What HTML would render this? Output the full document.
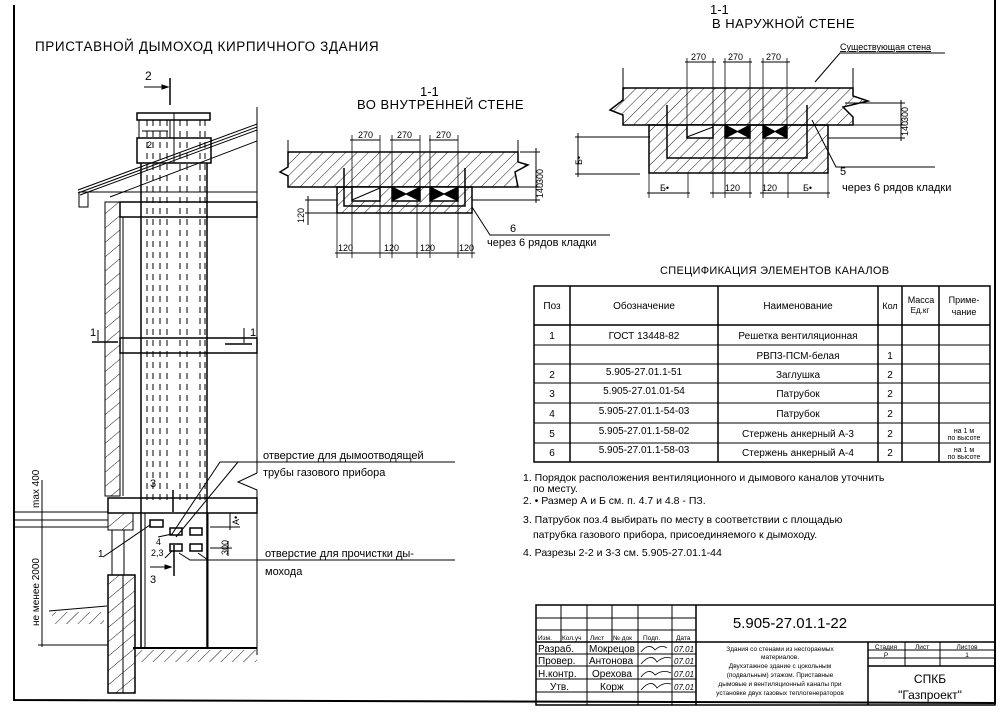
<!DOCTYPE html>
<html><head><meta charset="utf-8"><style>
html,body{margin:0;padding:0;background:#fff}
svg{display:block}
text{font-family:"Liberation Sans","DejaVu Sans",sans-serif;fill:#000}
</style></head><body>
<svg width="1003" height="716" viewBox="0 0 1003 716" xmlns="http://www.w3.org/2000/svg">
<defs>
<pattern id="h" width="8" height="8" patternUnits="userSpaceOnUse" patternTransform="rotate(45)">
<line x1="0" y1="0" x2="0" y2="8" stroke="#000" stroke-width="0.9"/></pattern>
<pattern id="h2" width="11" height="11" patternUnits="userSpaceOnUse" patternTransform="rotate(50)">
<line x1="0" y1="0" x2="0" y2="11" stroke="#000" stroke-width="0.9"/></pattern>
</defs>
<g stroke="#000" fill="none" stroke-width="1">
<polyline points="14,5 14,700 995,703 995,0" stroke-width="2"/>
</g>
<text x="35" y="51" font-size="13.5" letter-spacing="0.6">ПРИСТАВНОЙ ДЫМОХОД КИРПИЧНОГО ЗДАНИЯ</text>

<!-- LEFT ELEVATION -->
<g stroke="#000" fill="none" stroke-width="1">
<line x1="170" y1="78" x2="170" y2="105" stroke-width="1.5"/>
<line x1="144" y1="87" x2="168" y2="87"/><polygon points="168,87 162,85 162,89" fill="#000"/>
<rect x="137" y="113" width="73" height="7" stroke-width="1.5"/>
<rect x="139" y="120" width="31" height="18"/>
<line x1="142" y1="131" x2="168" y2="131"/>
<rect x="137" y="138" width="74" height="25" stroke-width="1.5"/>
<line x1="141" y1="163" x2="141" y2="647" stroke-width="1.5"/>
<line x1="207" y1="163" x2="207" y2="647" stroke-width="1.5"/>
<g stroke-dasharray="6,5">
<line x1="147" y1="120" x2="147" y2="500"/><line x1="153" y1="120" x2="153" y2="500"/>
<line x1="160" y1="120" x2="160" y2="500"/><line x1="167" y1="120" x2="167" y2="500"/>
<line x1="180" y1="120" x2="180" y2="500"/><line x1="187" y1="120" x2="187" y2="500"/>
<line x1="200" y1="120" x2="200" y2="500"/><line x1="205" y1="120" x2="205" y2="500"/>
</g>
<line x1="174" y1="113" x2="174" y2="163"/>
<!-- roof -->
<line x1="78" y1="190" x2="257" y2="124"/>
<line x1="78" y1="193" x2="257" y2="127"/>
<line x1="80" y1="195" x2="257" y2="130"/>
<line x1="110" y1="197" x2="257" y2="141"/>
<rect x="79" y="192" width="9" height="15"/>
<line x1="80" y1="192" x2="257" y2="192"/>
<rect x="120" y="202" width="137" height="15" stroke-width="1.5"/>
<line x1="257" y1="107" x2="257" y2="473"/>
<polyline points="257,473 238,482 250,487 257,490 257,655"/>
<!-- left wall -->
<rect x="105" y="202" width="15" height="294" fill="url(#h2)"/>
<line x1="123" y1="217" x2="123" y2="496"/>
<rect x="120" y="338" width="137" height="15" stroke-width="1.5"/>
<line x1="92" y1="342" x2="118" y2="342" stroke-width="1.5"/>
<line x1="225" y1="344" x2="252" y2="344" stroke-width="1.5"/>
<line x1="98" y1="330" x2="98" y2="341"/><line x1="244" y1="328" x2="244" y2="343"/>
<rect x="108" y="498" width="149" height="15" stroke-width="1.5"/>
<rect x="108" y="513" width="25" height="17" fill="url(#h2)"/>
<line x1="14" y1="512" x2="108" y2="512"/><line x1="14" y1="520" x2="108" y2="520"/>
<line x1="14" y1="527" x2="108" y2="527"/>
<line x1="112" y1="530" x2="112" y2="575"/><line x1="124" y1="530" x2="124" y2="575"/>
<rect x="108" y="575" width="27" height="118" fill="url(#h2)" stroke-width="1.5"/>
<line x1="123" y1="575" x2="123" y2="693"/>
<line x1="133" y1="648" x2="257" y2="648" stroke-width="2"/>
<rect x="135" y="650" width="122" height="12" fill="url(#h)" stroke="none"/>
<line x1="145" y1="513" x2="145" y2="648"/><line x1="208" y1="513" x2="208" y2="648"/>
<line x1="49" y1="611" x2="107" y2="606"/>
<rect x="52" y="612" width="52" height="12" fill="url(#h)" stroke="none"/>
<line x1="42" y1="480" x2="42" y2="647"/>
<line x1="38" y1="645" x2="108" y2="645"/>
<rect x="150" y="520" width="13" height="7" stroke-width="1.5"/>
<rect x="170" y="528" width="12" height="7" stroke-width="1.5"/>
<rect x="190" y="528" width="12" height="7" stroke-width="1.5"/>
<rect x="170" y="544" width="12" height="7" stroke-width="1.5"/>
<rect x="190" y="544" width="12" height="7" stroke-width="1.5"/>
<line x1="173" y1="490" x2="173" y2="512" stroke-width="1.5"/>
<line x1="174" y1="545" x2="174" y2="576" stroke-width="1.5"/>
<line x1="150" y1="567" x2="170" y2="567"/><polygon points="171,567 165,565 165,569" fill="#000"/>
<polyline points="103,557 150,525"/>
<polyline points="165,558 172,551"/>
<polyline points="158,537 172,534 220,462 455,462"/>
<line x1="176" y1="537" x2="238" y2="462"/>
<polyline points="179,553 190,560 455,560"/>
<line x1="198" y1="553" x2="208" y2="560"/>
<line x1="210" y1="527" x2="240" y2="527"/>
<line x1="230" y1="513" x2="230" y2="530"/><line x1="228" y1="541" x2="228" y2="556"/>
<line x1="210" y1="548" x2="232" y2="548"/>
</g>
<text x="145" y="80" font-size="12">2</text>
<text x="147" y="148" font-size="9">2</text>
<text x="90" y="336" font-size="11">1</text>
<text x="250" y="336" font-size="11">1</text>
<text x="150" y="487" font-size="11">3</text>
<text x="150" y="583" font-size="11">3</text>
<text x="98" y="557" font-size="10">1</text>
<text x="156" y="545" font-size="9">4</text>
<text x="151" y="556" font-size="9">2,3</text>
<text x="263" y="459" font-size="11">отверстие для дымоотводящей</text>
<text x="263" y="476" font-size="11">трубы газового прибора</text>
<text x="265" y="557" font-size="11">отверстие для прочистки ды-</text>
<text x="265" y="575" font-size="11">мохода</text>
<text transform="translate(39,626) rotate(-90)" font-size="10">не менее 2000</text>
<text transform="translate(39,508) rotate(-90)" font-size="10">max 400</text>
<text transform="translate(239,525) rotate(-90)" font-size="9">А•</text>
<text transform="translate(228,555) rotate(-90)" font-size="9">300</text>

<!-- SECTION INNER -->
<text x="420" y="96" font-size="13">1-1</text>
<text x="357" y="109" font-size="13" letter-spacing="0.5">ВО ВНУТРЕННЕЙ СТЕНЕ</text>
<g stroke="#000" fill="none">
<polygon points="288,152 518,152 518,162 528,165 515,172 518,187 288,187 288,176 280,172 288,167" fill="url(#h)" stroke-width="1.5"/>
<line x1="288" y1="140" x2="288" y2="152"/><line x1="518" y1="140" x2="518" y2="152"/>
<rect x="337" y="187" width="135" height="26" fill="url(#h)" stroke-width="1.5"/>
<polyline points="344,168 344,206 465,206 465,168" stroke-width="1.5"/>
<rect x="352" y="187" width="28" height="14" fill="#fff" stroke-width="1.5"/>
<line x1="352" y1="200" x2="380" y2="188"/>
<rect x="392" y="187" width="28" height="14" fill="#fff" stroke-width="1.5"/>
<path d="M392,187 L420,201 L420,187 L392,201Z" fill="#000"/>
<rect x="430" y="187" width="28" height="14" fill="#fff" stroke-width="1.5"/>
<path d="M430,187 L458,201 L458,187 L430,201Z" fill="#000"/>
<line x1="350" y1="140" x2="380" y2="140"/><line x1="390" y1="140" x2="420" y2="140"/><line x1="429" y1="140" x2="458" y2="140"/>
<g stroke-width="0.8">
<line x1="352" y1="135" x2="352" y2="187"/><line x1="380" y1="135" x2="380" y2="187"/>
<line x1="392" y1="135" x2="392" y2="187"/><line x1="420" y1="135" x2="420" y2="187"/>
<line x1="430" y1="135" x2="430" y2="187"/><line x1="458" y1="135" x2="458" y2="187"/>
<line x1="337" y1="213" x2="337" y2="258"/><line x1="352" y1="201" x2="352" y2="258"/>
<line x1="380" y1="201" x2="380" y2="258"/><line x1="392" y1="201" x2="392" y2="258"/>
<line x1="417" y1="201" x2="417" y2="258"/><line x1="430" y1="201" x2="430" y2="258"/>
<line x1="458" y1="201" x2="458" y2="258"/><line x1="472" y1="213" x2="472" y2="258"/>
</g>
<line x1="335" y1="253" x2="475" y2="253"/>
<line x1="472" y1="187" x2="540" y2="187"/><line x1="472" y1="200" x2="540" y2="200"/>
<line x1="520" y1="152" x2="540" y2="152"/><line x1="536" y1="148" x2="536" y2="203"/>
<line x1="305" y1="200" x2="337" y2="200"/><line x1="305" y1="213" x2="337" y2="213"/><line x1="308" y1="196" x2="308" y2="225"/>
<polyline points="472,207 490,235 610,235"/>
</g>
<g font-size="9">
<text x="358" y="138">270</text><text x="397" y="138">270</text><text x="436" y="138">270</text>
<text x="338" y="251">120</text><text x="384" y="251">120</text><text x="420" y="251">120</text><text x="459" y="251">120</text>
</g>
<text transform="translate(543,198) rotate(-90)" font-size="9">140</text>
<text transform="translate(543,184) rotate(-90)" font-size="9">300</text>
<text transform="translate(304,223) rotate(-90)" font-size="9">120</text>
<text x="510" y="232" font-size="11">6</text>
<text x="487" y="246" font-size="11">через 6 рядов кладки</text>

<!-- SECTION OUTER -->
<text x="710" y="14" font-size="13">1-1</text>
<text x="712" y="28" font-size="13" letter-spacing="0.5">В НАРУЖНОЙ СТЕНЕ</text>
<g stroke="#000" fill="none">
<polygon points="623,88 853,88 853,96 868,101 843,107 853,117 853,125 623,125 623,115 610,110 623,100" fill="url(#h)" stroke-width="1.5"/>
<line x1="623" y1="68" x2="623" y2="88"/><line x1="853" y1="68" x2="853" y2="88"/>
<rect x="649" y="125" width="179" height="48" fill="url(#h)" stroke-width="1.5"/>
<polyline points="667,105 667,158 807,158 807,105" stroke-width="1.5"/>
<rect x="687" y="125" width="26" height="13" fill="#fff" stroke-width="1.5"/>
<line x1="687" y1="137" x2="713" y2="127"/>
<rect x="725" y="125" width="25" height="13" fill="#fff" stroke-width="1.5"/>
<path d="M725,125 L750,138 L750,125 L725,138Z" fill="#000"/>
<rect x="763" y="125" width="24" height="13" fill="#fff" stroke-width="1.5"/>
<path d="M763,125 L787,138 L787,125 L763,138Z" fill="#000"/>
<line x1="685" y1="62" x2="716" y2="62"/><line x1="723" y1="62" x2="752" y2="62"/><line x1="761" y1="62" x2="790" y2="62"/>
<g stroke-width="0.8">
<line x1="687" y1="58" x2="687" y2="125"/><line x1="713" y1="58" x2="713" y2="125"/>
<line x1="725" y1="58" x2="725" y2="125"/><line x1="750" y1="58" x2="750" y2="125"/>
<line x1="763" y1="58" x2="763" y2="125"/><line x1="787" y1="58" x2="787" y2="125"/>
<line x1="649" y1="173" x2="649" y2="198"/><line x1="713" y1="138" x2="713" y2="198"/>
<line x1="725" y1="138" x2="725" y2="198"/><line x1="750" y1="138" x2="750" y2="198"/>
<line x1="763" y1="138" x2="763" y2="198"/><line x1="828" y1="173" x2="828" y2="198"/>
<line x1="688" y1="173" x2="688" y2="198"/><line x1="788" y1="173" x2="788" y2="198"/>
</g>
<line x1="647" y1="193" x2="690" y2="193"/><line x1="710" y1="193" x2="752" y2="193"/><line x1="760" y1="193" x2="830" y2="193"/>
<line x1="845" y1="103" x2="905" y2="103"/><line x1="828" y1="125" x2="905" y2="125"/><line x1="828" y1="138" x2="905" y2="138"/>
<line x1="901" y1="100" x2="901" y2="141"/>
<line x1="575" y1="137" x2="650" y2="137"/><line x1="575" y1="174" x2="640" y2="174"/><line x1="578" y1="133" x2="578" y2="177"/>
<polyline points="815,82 840,53 945,53"/>
<polyline points="812,120 836,167 935,167"/>
</g>
<text x="840" y="50" font-size="9" text-decoration="underline">Существующая стена</text>
<g font-size="9">
<text x="691" y="60">270</text><text x="728" y="60">270</text><text x="766" y="60">270</text>
<text x="660" y="191">Б•</text><text x="725" y="191">120</text><text x="762" y="191">120</text><text x="803" y="191">Б•</text>
</g>
<text transform="translate(908,136) rotate(-90)" font-size="9">140</text>
<text transform="translate(908,122) rotate(-90)" font-size="9">300</text>
<text transform="translate(582,165) rotate(-90)" font-size="9">Б•</text>
<text x="840" y="175" font-size="11">5</text>
<text x="842" y="191" font-size="11">через 6 рядов кладки</text>

<!-- SPEC TABLE -->
<text x="660" y="274" font-size="11" letter-spacing="0.3">СПЕЦИФИКАЦИЯ ЭЛЕМЕНТОВ КАНАЛОВ</text>
<g stroke="#000" fill="none">
<rect x="534" y="286" width="456" height="176" stroke-width="1.5"/>
<line x1="570" y1="286" x2="570" y2="462" stroke-width="1.5"/>
<line x1="718" y1="286" x2="718" y2="462" stroke-width="1.5"/>
<line x1="878" y1="286" x2="878" y2="462" stroke-width="1.5"/>
<line x1="902" y1="286" x2="902" y2="462" stroke-width="1.5"/>
<line x1="939" y1="286" x2="939" y2="462" stroke-width="1.5"/>
<line x1="534" y1="325" x2="990" y2="325" stroke-width="1.5"/>
<line x1="534" y1="345" x2="990" y2="345"/><line x1="534" y1="364" x2="990" y2="364"/>
<line x1="534" y1="383" x2="990" y2="383"/><line x1="534" y1="403" x2="990" y2="403"/>
<line x1="534" y1="423" x2="990" y2="423"/><line x1="534" y1="443" x2="990" y2="443"/>
</g>
<g font-size="10" text-anchor="middle">
<text x="552" y="309">Поз</text><text x="644" y="309">Обозначение</text><text x="798" y="309">Наименование</text>
<text x="890" y="309" font-size="9">Кол</text><text x="921" y="303" font-size="9">Масса</text><text x="920" y="313" font-size="8">Ед.кг</text>
<text x="964" y="303" font-size="9">Приме-</text><text x="964" y="315" font-size="9">чание</text>
<text x="552" y="339">1</text><text x="644" y="339">ГОСТ 13448-82</text><text x="798" y="339">Решетка вентиляционная</text>
<text x="798" y="359">РВП3-ПСМ-белая</text><text x="890" y="359">1</text>
<text x="552" y="378">2</text><text x="644" y="375">5.905-27.01.1-51</text><text x="798" y="378">Заглушка</text><text x="890" y="378">2</text>
<text x="552" y="397">3</text><text x="644" y="394">5.905-27.01.01-54</text><text x="798" y="397">Патрубок</text><text x="890" y="397">2</text>
<text x="552" y="417">4</text><text x="644" y="414">5.905-27.01.1-54-03</text><text x="798" y="417">Патрубок</text><text x="890" y="417">2</text>
<text x="552" y="437">5</text><text x="644" y="434">5.905-27.01.1-58-02</text><text x="798" y="437">Стержень анкерный А-3</text><text x="890" y="437">2</text>
<text x="552" y="456">6</text><text x="644" y="453">5.905-27.01.1-58-03</text><text x="798" y="456">Стержень анкерный А-4</text><text x="890" y="456">2</text>
<text x="964" y="433" font-size="7">на 1 м</text><text x="964" y="440" font-size="7">по высоте</text>
<text x="964" y="452" font-size="7">на 1 м</text><text x="964" y="459" font-size="7">по высоте</text>
</g>
<g font-size="10.5">
<text x="523" y="481">1. Порядок расположения вентиляционного и дымового каналов уточнить</text>
<text x="533" y="492">по месту.</text>
<text x="523" y="504">2. • Размер А и Б см. п. 4.7 и 4.8 - ПЗ.</text>
<text x="523" y="523">3. Патрубок поз.4 выбирать по месту в соответствии с площадью</text>
<text x="533" y="538">патрубка газового прибора, присоединяемого к дымоходу.</text>
<text x="523" y="556">4. Разрезы 2-2 и 3-3 см. 5.905-27.01.1-44</text>
</g>

<!-- TITLE BLOCK -->
<g stroke="#000" fill="none">
<rect x="536" y="605" width="459" height="100" stroke-width="1.5"/>
<line x1="696" y1="605" x2="696" y2="705" stroke-width="1.5"/>
<line x1="561" y1="605" x2="561" y2="642"/><line x1="587" y1="605" x2="587" y2="705"/>
<line x1="612" y1="605" x2="612" y2="642"/><line x1="638" y1="605" x2="638" y2="705"/>
<line x1="672" y1="605" x2="672" y2="705"/>
<line x1="536" y1="618" x2="696" y2="618"/><line x1="536" y1="630" x2="696" y2="630"/>
<line x1="536" y1="642" x2="995" y2="642" stroke-width="1.5"/>
<line x1="536" y1="654" x2="696" y2="654"/><line x1="536" y1="666" x2="696" y2="666"/>
<line x1="536" y1="679" x2="696" y2="679"/><line x1="536" y1="692" x2="696" y2="692"/>
<line x1="868" y1="642" x2="868" y2="705" stroke-width="1.5"/>
<line x1="868" y1="650" x2="995" y2="650"/><line x1="868" y1="658" x2="995" y2="658"/>
<line x1="868" y1="666" x2="995" y2="666" stroke-width="1.5"/>
<line x1="905" y1="642" x2="905" y2="666"/><line x1="940" y1="642" x2="940" y2="666"/>
</g>
<g font-size="6.5">
<text x="538" y="640">Изм.</text><text x="562" y="640">Кол.уч</text><text x="590" y="640">Лист</text><text x="613" y="640">№ док</text><text x="643" y="640">Подп.</text><text x="676" y="640">Дата</text>
</g>
<g font-size="10">
<text x="538" y="652">Разраб.</text><text x="589" y="652">Мокрецов</text>
<text x="538" y="664">Провер.</text><text x="589" y="664">Антонова</text>
<text x="538" y="677">Н.контр.</text><text x="592" y="677">Орехова</text>
<text x="550" y="690">Утв.</text><text x="600" y="690">Корж</text>
</g>
<g font-size="8" font-style="italic"><text x="674" y="652">07.01</text><text x="674" y="664">07.01</text><text x="674" y="677">07.01</text><text x="674" y="690">07.01</text></g>
<g stroke="#000" fill="none" stroke-width="0.8">
<path d="M641,652 q8,-10 14,-2 q6,-6 12,-2"/><path d="M641,664 q10,-12 16,-2 q6,-6 14,-4"/>
<path d="M641,677 q8,-10 14,-2 q8,-6 16,-2"/><path d="M641,690 q10,-12 16,-2 q6,-6 14,-4"/>
</g>
<text x="790" y="628" font-size="15" text-anchor="middle">5.905-27.01.1-22</text>
<g font-size="6.5" text-anchor="middle">
<text x="780" y="651">Здания со стенами из несгораемых</text>
<text x="780" y="659">материалов.</text>
<text x="780" y="668">Двухэтажное здание с цокольным</text>
<text x="780" y="677">(подвальным) этажом. Приставные</text>
<text x="780" y="686">дымовые и вентиляционный каналы при</text>
<text x="780" y="695">установке двух газовых теплогенераторов</text>
<text x="886" y="649">Стадия</text><text x="922" y="649">Лист</text><text x="967" y="649">Листов</text>
<text x="886" y="657">Р</text><text x="967" y="657">1</text>
</g>
<text x="930" y="683" font-size="12" text-anchor="middle">СПКБ</text>
<text x="930" y="699" font-size="12" text-anchor="middle">"Газпроект"</text>
</svg>
</body></html>
